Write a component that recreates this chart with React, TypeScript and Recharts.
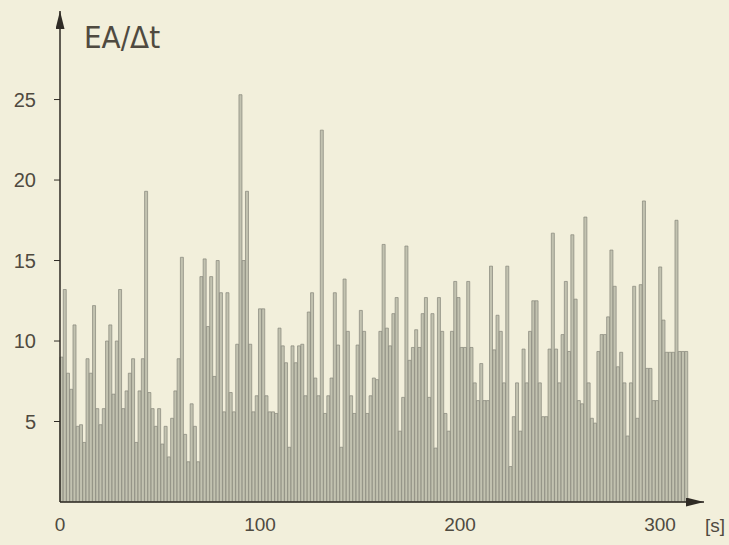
import React from 'react';
import { BarChart, Bar, XAxis, YAxis } from 'recharts';

// Bar heights (EA/Δt), read left to right in segments
const SEG_A = [9, 13.2, 8, 7, 11, 4.7, 4.8, 3.7, 8.9, 8, 12.2, 5.8, 4.8, 5.8, 10, 11, 6.7, 10, 13.2, 5.8, 6.9];
const SEG_B = [8.0, 8.9, 3.7, 6.9, 8.9, 19.3, 6.8, 5.8, 4.7, 5.8, 3.6, 4.7, 2.8, 5.2, 6.9, 8.9, 15.2, 4.2, 2.5, 6.1, 4.7, 2.5, 14.0, 15.1, 10.9, 14.0, 7.8];
const SEG_C = [15.0, 13.0, 5.6, 13.0, 6.8, 5.6, 9.8, 25.3, 15.0, 19.3, 9.8, 5.6, 6.6, 12.0, 12.0, 6.6, 5.6, 5.6, 5.5, 10.8, 9.7, 8.65, 3.4, 9.7, 8.65, 9.7];
const SEG_D = [9.8, 6.6, 11.8, 13.0, 7.7, 6.6, 23.1, 5.5, 6.6, 7.7, 13.0, 9.75, 3.4, 13.85, 10.6, 6.6, 5.5, 9.75, 11.9, 10.6, 5.5, 6.6, 7.7, 7.6, 10.6, 16.0];
const SEG_E = [10.8, 9.7, 11.7, 12.7, 4.4, 6.5, 15.9, 8.8, 9.6, 10.7, 9.6, 11.7, 12.7, 6.5, 11.7, 3.35, 12.7, 10.6, 5.5, 4.4, 10.6, 13.7, 12.7, 9.6, 9.6, 13.7];
const SEG_F = [9.6, 7.4, 6.3, 8.6, 6.3, 6.3, 14.65, 9.45, 11.6, 10.6, 7.4, 14.65, 2.2, 5.3, 7.4, 4.4, 9.5, 7.4, 10.6, 12.5, 12.5, 7.4, 5.3, 5.3, 9.5, 16.7, 9.5];
const SEG_G = [7.4, 10.4, 13.7, 9.35, 16.6, 12.6, 6.3, 6.1, 17.7, 7.4, 5.2, 4.9, 9.35, 10.4, 10.4, 11.5, 15.65, 13.4, 8.4, 9.3, 7.4, 4.1, 7.4, 13.4];
const SEG_H = [5.2, 13.5, 18.7, 8.3, 8.3, 6.3, 6.3, 14.6, 11.3, 9.3, 9.3, 9.3, 17.5, 9.35, 9.35, 9.35];

const VALUES = [...SEG_A, ...SEG_B, ...SEG_C, ...SEG_D, ...SEG_E, ...SEG_F, ...SEG_G, ...SEG_H];
const TIME_SPAN = 314; // seconds covered by the bars
const BIN = TIME_SPAN / VALUES.length;

const X_TICKS = [0, 100, 200, 300];
const Y_TICKS = [5, 10, 15, 20, 25];
const Y_LABEL = 'EA/Δt';
const X_UNIT = '[s]';

const data = VALUES.map((v, i) => ({ t: (i + 0.5) * BIN, v }));

const INK = '#2f2b25';
const TEXT = '#4f4a40';
const FONT = 'Liberation Sans';

export default function App() {
  return (
    <div
      style={{
        position: 'absolute',
        left: 0,
        top: 0,
        width: 729,
        height: 545,
        background: '#f2efdb',
        overflow: 'hidden',
      }}
    >
      <svg width={0} height={0} style={{ position: 'absolute' }}>
        <defs>
          <marker
            id="arrowHead"
            viewBox="0 0 18 9"
            refX={18}
            refY={4.5}
            markerWidth={18}
            markerHeight={9}
            markerUnits="userSpaceOnUse"
            orient="auto-start-reverse"
          >
            <path d="M0,0 L18,4.5 L0,9 z" fill={INK} />
          </marker>
        </defs>
      </svg>
      <BarChart
        width={729}
        height={545}
        data={data}
        margin={{ top: 11, right: 25, bottom: 13, left: 0 }}
        barCategoryGap={0}
        barGap={0}
      >
        <XAxis
          dataKey="t"
          type="number"
          domain={[0, 322]}
          ticks={X_TICKS}
          tickLine={false}
          tickSize={14}
          height={30}
          axisLine={{ stroke: INK, strokeWidth: 1.5, markerEnd: 'url(#arrowHead)' } as any}
          tick={{ fill: TEXT, fontSize: 19, fontFamily: FONT }}
          label={{
            value: X_UNIT,
            position: 'right',
            dx: -4,
            dy: 8,
            fill: TEXT,
            fontSize: 19,
            fontFamily: FONT,
          }}
        />
        <YAxis
          type="number"
          domain={[0, 30.5]}
          ticks={Y_TICKS}
          width={60}
          tickSize={6}
          tickMargin={18}
          axisLine={{ stroke: INK, strokeWidth: 1.5, markerStart: 'url(#arrowHead)' } as any}
          tickLine={{ stroke: INK }}
          tick={{ fill: TEXT, fontSize: 20, fontFamily: FONT }}
        />
        <Bar dataKey="v" fill="#c2c2b0" stroke="#85857a" strokeWidth={0.7} isAnimationActive={false} />
      </BarChart>
      <svg
        width={729}
        height={545}
        style={{ position: 'absolute', left: 0, top: 0, pointerEvents: 'none' }}
      >
        <text
          x={84}
          y={48}
          fill={TEXT}
          fontSize={31}
          fontWeight={300}
          fontFamily="'DejaVu Sans Condensed', 'Liberation Sans', sans-serif"
          style={{ fontStretch: 'condensed' }}
        >
          {Y_LABEL}
        </text>
      </svg>
    </div>
  );
}
